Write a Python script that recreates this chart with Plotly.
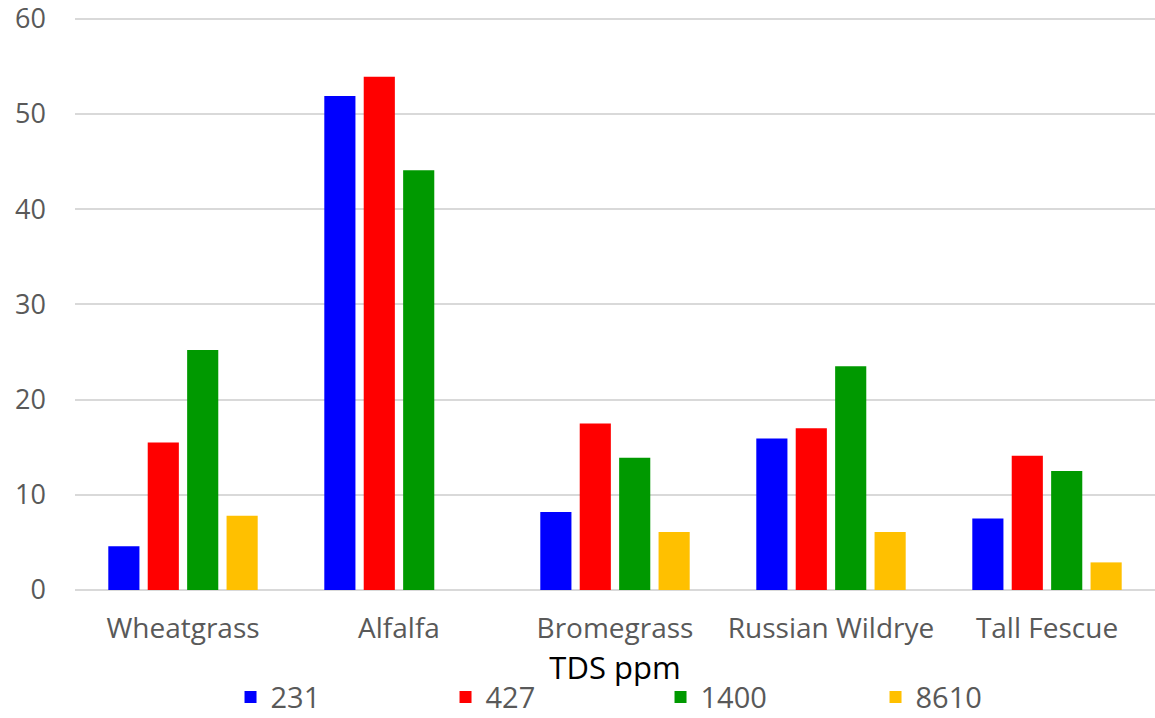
import plotly.graph_objects as go

categories = ["Wheatgrass", "Alfalfa", "Bromegrass", "Russian Wildrye", "Tall Fescue"]
s231 = [4.6, 51.9, 8.2, 15.9, 7.5]
s427 = [15.5, 53.9, 17.5, 17.0, 14.1]
s1400 = [25.2, 44.1, 13.9, 23.5, 12.5]
s8610 = [7.8, None, 6.1, 6.1, 2.9]
series_names = ["231", "427", "1400", "8610"]
colors = ["#0000FF", "#FF0000", "#009900", "#FFC000"]
yticks = [0, 10, 20, 30, 40, 50, 60]

fig = go.Figure()
for name, vals, c in zip(series_names, [s231, s427, s1400, s8610], colors):
    fig.add_trace(go.Bar(x=categories, y=vals, name=name, marker_color=c,
                         marker_line_width=0))

FONT = "Open Sans, sans-serif"
fig.update_layout(
    width=1155, height=718,
    margin=dict(l=75, r=0, t=14, b=128, autoexpand=False),
    paper_bgcolor="white", plot_bgcolor="white",
    barmode="group", bargap=0.27, bargroupgap=0.21,
    font=dict(family=FONT, color="#595959", size=26),
    xaxis=dict(
        title=dict(text="TDS ppm", font=dict(size=31, color="black", family=FONT), standoff=0),
        showgrid=False, showline=False, ticks="", ticklabelstandoff=19,
        tickfont=dict(size=28, color="#595959"),
    ),
    yaxis=dict(
        range=[0, 60.5], tickvals=yticks, showgrid=True, gridcolor="#d9d9d9", gridwidth=1.5,
        zeroline=True, zerolinecolor="#d9d9d9", zerolinewidth=1.5,
        ticks="", ticklabelstandoff=28, ticklabeloverflow="allow",
        tickfont=dict(size=27, color="#595959"),
    ),
    legend=dict(
        orientation="h", x=0.144, xanchor="left", y=-0.186, yanchor="middle",
        font=dict(size=29, color="#595959", family=FONT),
        entrywidth=170, entrywidthmode="pixels", itemwidth=30,
        bgcolor="rgba(0,0,0,0)",
    ),
)

fig.write_html("out.html", config={"displayModeBar": False},
               post_script="document.body.style.margin='0';")
